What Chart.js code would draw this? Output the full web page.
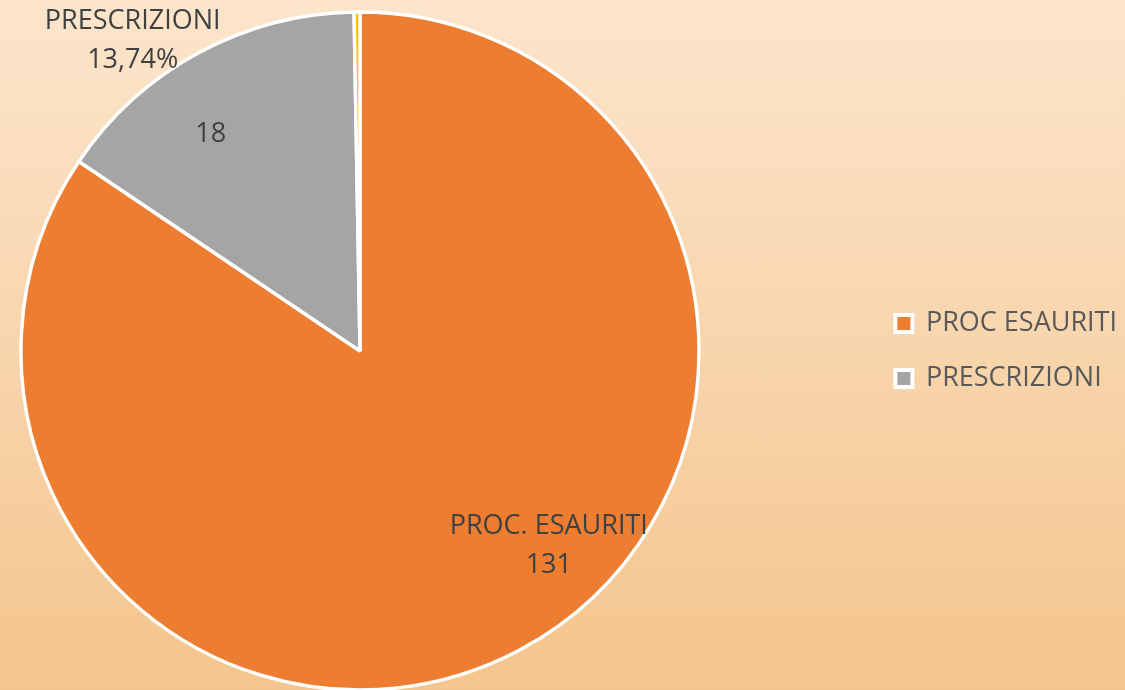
<!DOCTYPE html>
<html>
<head>
<meta charset="utf-8">
<script src="https://cdn.jsdelivr.net/npm/chart.js@4/dist/chart.umd.min.js"></script>
<style>
  html, body { margin: 0; padding: 0; width: 1125px; height: 690px; overflow: hidden;
    background: linear-gradient(to bottom, #FCE5CC 0%, #F4C58D 100%); }
  canvas { display: block; }
</style>
</head>
<body>
<canvas id="c" width="1125" height="690"></canvas>
<script>
// ---- data ----
const categories = ['PROC ESAURITI', 'PRESCRIZIONI', ''];
const sliceShares = [84.44, 15.28, 0.28];          // share of the circle
const labelNames = ['PROC. ESAURITI', 'PRESCRIZIONI'];
const labelCounts = ['131', '18'];
const labelPercents = ['', '13,74%'];
const sliceColors = ['#ED7D31', '#A5A5A5', '#FFC000'];

// label placement (fraction of slice angle, fraction of radius)
const placements = {
  orangeInside: { idx: 0, frac: 0.447, r: 0.80 },
  greyInside:   { idx: 1, frac: 0.39, r: 0.776 },
  greyOutside:  { idx: 1, frac: 0.36, r: 1.135 }
};

const FONT = '"Open Sans", "DejaVu Sans", sans-serif';

function pointOn(arc, frac, rf) {
  const a = arc.startAngle + (arc.endAngle - arc.startAngle) * frac;
  const r = arc.outerRadius * rf;
  return { x: arc.x + Math.cos(a) * r, y: arc.y + Math.sin(a) * r };
}

const labelPlugin = {
  id: 'sliceLabels',
  afterDatasetsDraw(chart) {
    const ctx = chart.ctx;
    const arcs = chart.getDatasetMeta(0).data;
    ctx.save();
    ctx.font = '27px ' + FONT;
    ctx.fillStyle = '#404040';
    ctx.textAlign = 'center';
    ctx.textBaseline = 'middle';
    const lh = 39;
    let p = pointOn(arcs[placements.orangeInside.idx], placements.orangeInside.frac, placements.orangeInside.r);
    ctx.fillText(labelNames[0], p.x, p.y - lh / 2);
    ctx.fillText(labelCounts[0], p.x, p.y + lh / 2);
    p = pointOn(arcs[placements.greyInside.idx], placements.greyInside.frac, placements.greyInside.r);
    ctx.fillText(labelCounts[1], p.x, p.y);
    p = pointOn(arcs[placements.greyOutside.idx], placements.greyOutside.frac, placements.greyOutside.r);
    ctx.fillText(labelNames[1], p.x, p.y - lh / 2);
    ctx.fillText(labelPercents[1], p.x, p.y + lh / 2);
    ctx.restore();
  }
};

const areaPlugin = {
  id: 'squareArea',
  afterLayout(chart) {
    const a = chart.chartArea;
    const side = 680;
    a.right = a.left + side;
    a.width = side;
  }
};

new Chart(document.getElementById('c'), {
  type: 'pie',
  data: {
    labels: categories,
    datasets: [{
      data: sliceShares,
      backgroundColor: sliceColors,
      borderColor: '#FFFFFF',
      borderWidth: 3.4,
      hoverOffset: 0
    }]
  },
  options: {
    responsive: false,
    animation: false,
    radius: 339,
    layout: { padding: { top: 12, bottom: 0, left: 20, right: -2 } },
    plugins: {
      tooltip: { enabled: false },
      legend: {
        position: 'right',
        align: 'center',
        labels: {
          generateLabels: (chart) =>
            Chart.overrides.pie.plugins.legend.labels.generateLabels(chart)
              .map(item => Object.assign(item, { lineWidth: 4 })),
          filter: (item) => item.text !== '',
          boxWidth: 17,
          boxHeight: 17,
          padding: 28,
          color: '#595959',
          font: { size: 27, family: FONT }
        }
      }
    }
  },
  plugins: [labelPlugin, areaPlugin]
});
</script>
</body>
</html>
